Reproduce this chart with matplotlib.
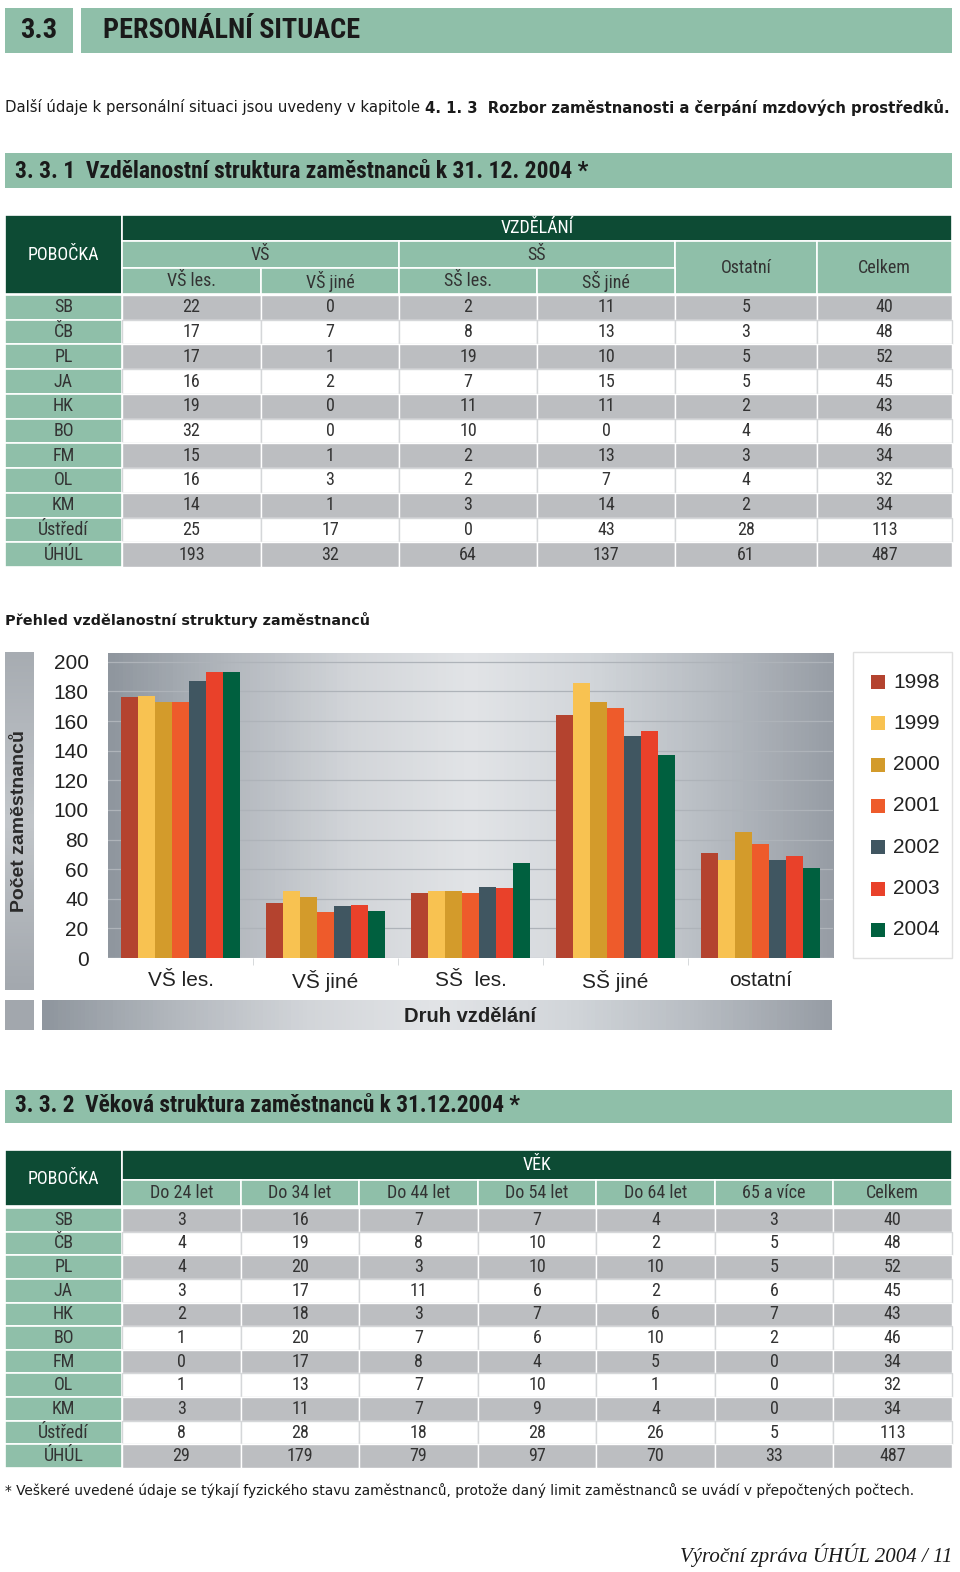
import numpy as np
import matplotlib
matplotlib.use('Agg')
import matplotlib.pyplot as plt
from matplotlib.patches import Rectangle
from matplotlib.colors import LinearSegmentedColormap
from matplotlib import font_manager

# ---- data: education table (3.3.1) ----
branches = ['SB', 'ČB', 'PL', 'JA', 'HK', 'BO', 'FM', 'OL', 'KM', 'Ústředí', 'ÚHÚL']
edu_vs_les = [22, 17, 17, 16, 19, 32, 15, 16, 14, 25, 193]
edu_vs_jine = [0, 7, 1, 2, 0, 0, 1, 3, 1, 17, 32]
edu_ss_les = [2, 8, 19, 7, 11, 10, 2, 2, 3, 0, 64]
edu_ss_jine = [11, 13, 10, 15, 11, 0, 13, 7, 14, 43, 137]
edu_ostatni = [5, 3, 5, 5, 2, 4, 3, 4, 2, 28, 61]
edu_celkem = [40, 48, 52, 45, 43, 46, 34, 32, 34, 113, 487]

# ---- data: age table (3.3.2) ----
age_cols = ['Do 24 let', 'Do 34 let', 'Do 44 let', 'Do 54 let', 'Do 64 let', '65 a více', 'Celkem']
age_24 = [3, 4, 4, 3, 2, 1, 0, 1, 3, 8, 29]
age_34 = [16, 19, 20, 17, 18, 20, 17, 13, 11, 28, 179]
age_44 = [7, 8, 3, 11, 3, 7, 8, 7, 7, 18, 79]
age_54 = [7, 10, 10, 6, 7, 6, 4, 10, 9, 28, 97]
age_64 = [4, 2, 10, 2, 6, 10, 5, 1, 4, 26, 70]
age_65 = [3, 5, 5, 6, 7, 2, 0, 0, 0, 5, 33]
age_celkem = [40, 48, 52, 45, 43, 46, 34, 32, 34, 113, 487]

# ---- data: bar chart ----
chart_cats = ['VŠ les.', 'VŠ jiné', 'SŠ  les.', 'SŠ jiné', 'ostatní']
years = ['1998', '1999', '2000', '2001', '2002', '2003', '2004']
counts_1998 = [176, 37, 44, 164, 71]
counts_1999 = [177, 45, 45, 186, 66]
counts_2000 = [173, 41, 45, 173, 85]
counts_2001 = [173, 31, 44, 169, 77]
counts_2002 = [187, 35, 48, 150, 66]
counts_2003 = [193, 36, 47, 153, 69]
counts_2004 = [193, 32, 64, 137, 61]
year_colors = ['#b4432f', '#f8c251', '#d39b2b', '#ee5b2b', '#405661', '#e9412a', '#00603f']

SAGE = '#8fbfa9'
DARK = '#0d4b34'
GRAY_ROW = '#bcbec1'
TXT = '#333333'

# pick a condensed sans if one is installed
fl = font_manager.fontManager.ttflist
avail = {f.name for f in fl}
NARROW = dict(family='DejaVu Sans')
for nm in ['Liberation Sans Narrow', 'Roboto Condensed', 'Open Sans Condensed',
           'Noto Sans Condensed', 'DejaVu Sans Condensed', 'Arial Narrow']:
    if nm in avail:
        NARROW = dict(family=nm)
        break
else:
    for nm in ['Roboto', 'Noto Sans', 'Open Sans', 'DejaVu Sans', 'Inter']:
        if any(f.name == nm and str(f.stretch) in ('condensed', 'semi-condensed', 'extra-condensed')
               for f in fl):
            st = [str(f.stretch) for f in fl if f.name == nm and
                  str(f.stretch) in ('condensed', 'semi-condensed', 'extra-condensed')][0]
            NARROW = dict(family=nm, fontstretch=st)
            break
BODY = 'DejaVu Sans'
ARIAL = 'Liberation Sans'
SERIF = 'Liberation Serif'

fig = plt.figure(figsize=(9.6, 15.72), dpi=100)
bg = fig.add_axes([0, 0, 1, 1])
bg.set_axis_off()
renderer = fig.canvas.get_renderer()


def rect(x0, y0, x1, y1, color, edge='white', lw=1.2):
    bg.add_patch(Rectangle((x0, y0), x1 - x0, y1 - y0, facecolor=color,
                           edgecolor=edge, linewidth=lw))


def width_of(t):
    return t.get_window_extent(renderer=renderer).width


def fit(t, target):
    t.set_fontsize(t.get_fontsize() * target / width_of(t))


def cell(xc, yc, s, color=TXT, size=13):
    bg.text(xc, yc, s, fontsize=size, color=color, ha='center', va='center', **NARROW)


# ---- page header ----
rect(5, 8, 73, 53, SAGE, edge='none')
rect(81, 8, 952, 53, SAGE, edge='none')
t = bg.text(20, 31, '3.3', weight='bold', fontsize=21, color='#1a1a1a',
            ha='left', va='center', **NARROW)
fit(t, 37)
t = bg.text(103, 31, 'PERSONÁLNÍ SITUACE', weight='bold', fontsize=21,
            color='#1a1a1a', ha='left', va='center', **NARROW)
fit(t, 257)

t1 = bg.text(5, 107, 'Další údaje k personální situaci jsou uvedeny v kapitole ',
             family=BODY, fontsize=11, color='#1a1a1a', ha='left', va='center')
t2 = bg.text(5, 107, '4. 1. 3  Rozbor zaměstnanosti a čerpání mzdových prostředků.',
             family=BODY, weight='bold', fontsize=11, color='#1a1a1a', ha='left', va='center')
k = 940 / (width_of(t1) + width_of(t2))
t1.set_fontsize(11 * k)
t2.set_fontsize(11 * k)
t2.set_x(5 + width_of(t1))

# ---- section 3.3.1 ----
rect(5, 153, 952, 188, SAGE, edge='none')
t = bg.text(15, 171, '3. 3. 1  Vzdělanostní struktura zaměstnanců k 31. 12. 2004 *',
            weight='bold', fontsize=17, color='#1a1a1a', ha='left', va='center', **NARROW)
fit(t, 575)

# table 1 header
cx1 = [5, 122, 261, 399, 537, 675, 817, 952]
rect(5, 215, 122, 294, DARK)
cell(63.5, 255, 'POBOČKA', 'white')
rect(122, 215, 952, 241, DARK)
cell(537, 228, 'VZDĚLÁNÍ', 'white')
rect(122, 241, 399, 268, SAGE)
cell(260, 255, 'VŠ')
rect(399, 241, 675, 268, SAGE)
cell(537, 255, 'SŠ')
rect(675, 241, 817, 294, SAGE)
cell(746, 268, 'Ostatní')
rect(817, 241, 952, 294, SAGE)
cell(884.5, 268, 'Celkem')
for i, lab in enumerate(['VŠ les.', 'VŠ jiné', 'SŠ les.', 'SŠ jiné']):
    rect(cx1[i + 1], 268, cx1[i + 2], 294, SAGE)
    cell((cx1[i + 1] + cx1[i + 2]) / 2, 281, lab)

edu_table = [edu_vs_les, edu_vs_jine, edu_ss_les, edu_ss_jine, edu_ostatni, edu_celkem]
y0, rh = 295, (567 - 295) / len(branches)
for r, br in enumerate(branches):
    ya, yb = y0 + r * rh, y0 + (r + 1) * rh
    rect(5, ya, 122, yb, SAGE)
    cell(63.5, (ya + yb) / 2, br)
    fill = GRAY_ROW if r % 2 == 0 else 'white'
    for c, col in enumerate(edu_table):
        rect(cx1[c + 1], ya, cx1[c + 2], yb, fill, edge='white' if fill != 'white' else '#d5d7d9', lw=1.0)
        cell((cx1[c + 1] + cx1[c + 2]) / 2, (ya + yb) / 2, str(col[r]))

# ---- chart ----
t = bg.text(5, 620, 'Přehled vzdělanostní struktury zaměstnanců', family=BODY, weight='bold',
            fontsize=11, color='#1a1a1a', ha='left', va='center')
fit(t, 362)

side_cmap = LinearSegmentedColormap.from_list('side', ['#a7acb2', '#c2c6ca', '#a3a8ae'])
bg.imshow(np.linspace(0, 1, 100).reshape(-1, 1), extent=[5, 34, 990, 652], cmap=side_cmap,
          aspect='auto', zorder=1)
bg.text(19.5, 821, 'Počet zaměstnanců', family=ARIAL, weight='bold', fontsize=14,
        color='#2a2a2a', rotation=90, ha='center', va='center', zorder=2)

bar_cmap = LinearSegmentedColormap.from_list(
    'plotbg', ['#8f969e', '#b3b8be', '#d2d5d9', '#e2e4e7', '#d2d6da', '#b7bcc2', '#979da5'])
bg.add_patch(Rectangle((5, 1000), 29, 30, facecolor='#a2a7ad', edgecolor='none', zorder=1))
bg.imshow(np.linspace(0, 1, 200).reshape(1, -1), extent=[42, 832, 1030, 1000], cmap=bar_cmap,
          aspect='auto', zorder=1)
bg.text(470, 1016, 'Druh vzdělání', family=ARIAL, weight='bold', fontsize=14.5,
        color='#222222', ha='center', va='center', zorder=2)

ax = fig.add_axes([108 / 960, 1 - 958 / 1572, (833 - 108) / 960, (958 - 653) / 1572])
ax.imshow(np.linspace(0, 1, 200).reshape(1, -1), extent=[-0.5, 4.5, 0, 206], cmap=bar_cmap,
          aspect='auto', zorder=0)
series = [counts_1998, counts_1999, counts_2000, counts_2001, counts_2002, counts_2003, counts_2004]
x = np.arange(len(chart_cats))
bw = 0.118
for j, (vals, colr) in enumerate(zip(series, year_colors)):
    ax.bar(x + (j - 3) * bw, vals, width=bw, color=colr, zorder=3, linewidth=0)
ax.set_xlim(-0.5, 4.5)
ax.set_ylim(0, 206)
ax.set_yticks(np.arange(0, 201, 20))
for yv in np.arange(20, 201, 20):
    ax.axhline(yv, color='#aeb3b9', lw=0.9, zorder=1)
ax.axhline(0, color='#c9ccd0', lw=1.0, zorder=2)
ax.tick_params(axis='y', length=0, pad=14, labelsize=15, labelcolor='#222222')
ax.set_xticks(x)
ax.set_xticklabels(chart_cats)
ax.set_xticks(np.arange(0.5, 4.5, 1), minor=True)
ax.tick_params(axis='x', which='major', length=0, pad=9, labelsize=15, labelcolor='#222222')
ax.tick_params(axis='x', which='minor', length=5, color='#d0d3d6', direction='out')
for lab in ax.get_xticklabels() + ax.get_yticklabels():
    lab.set_family(ARIAL)
for s in ax.spines.values():
    s.set_visible(False)

# legend box
bg.add_patch(Rectangle((853, 652), 99, 306, facecolor='white', edgecolor='#e0e0e0', lw=1.0))
for k, (yr, colr) in enumerate(zip(years, year_colors)):
    yc = 682 + k * 41.3
    bg.add_patch(Rectangle((871, yc - 7), 14, 14, facecolor=colr, edgecolor='none'))
    bg.text(893, yc, yr, family=ARIAL, fontsize=15, color='#222222', ha='left', va='center')

# ---- section 3.3.2 ----
rect(5, 1090, 952, 1123, SAGE, edge='none')
t = bg.text(15, 1106, '3. 3. 2  Věková struktura zaměstnanců k 31.12.2004 *',
            weight='bold', fontsize=17, color='#1a1a1a', ha='left', va='center', **NARROW)
fit(t, 507)

cx2 = [5, 122, 241, 359, 478, 596, 715, 833, 952]
rect(5, 1150, 122, 1206, DARK)
cell(63.5, 1179, 'POBOČKA', 'white')
rect(122, 1150, 952, 1180, DARK)
cell(537, 1165, 'VĚK', 'white')
for i, lab in enumerate(age_cols):
    rect(cx2[i + 1], 1180, cx2[i + 2], 1206, SAGE)
    cell((cx2[i + 1] + cx2[i + 2]) / 2, 1193, lab)

age_table = [age_24, age_34, age_44, age_54, age_64, age_65, age_celkem]
y0, rh = 1208, (1468 - 1208) / len(branches)
for r, br in enumerate(branches):
    ya, yb = y0 + r * rh, y0 + (r + 1) * rh
    rect(5, ya, 122, yb, SAGE)
    cell(63.5, (ya + yb) / 2, br)
    fill = GRAY_ROW if r % 2 == 0 else 'white'
    for c, col in enumerate(age_table):
        rect(cx2[c + 1], ya, cx2[c + 2], yb, fill, edge='white' if fill != 'white' else '#d5d7d9', lw=1.0)
        cell((cx2[c + 1] + cx2[c + 2]) / 2, (ya + yb) / 2, str(col[r]))

# ---- footnote and footer ----
t = bg.text(5, 1491, '* Veškeré uvedené údaje se týkají fyzického stavu zaměstnanců, protože daný limit '
            'zaměstnanců se uvádí v přepočtených počtech.', family=BODY, fontsize=10,
            color='#1a1a1a', ha='left', va='center')
fit(t, 913)
bg.text(952, 1555, 'Výroční zpráva ÚHÚL 2004 / 11', family=SERIF, style='italic',
        fontsize=15, color='#1a1a1a', ha='right', va='center')

bg.set_xlim(0, 960)
bg.set_ylim(1572, 0)
fig.savefig('out.png', dpi=100)
